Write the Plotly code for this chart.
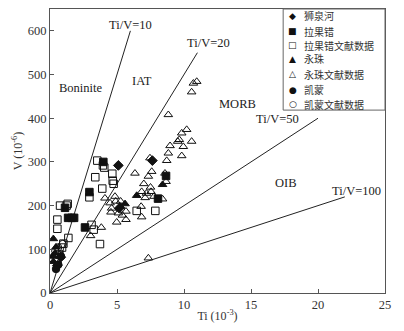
import plotly.graph_objects as go

FONT = "Liberation Serif, Times New Roman, serif"
CJK = "Noto Sans CJK SC"

# 狮泉河
SQH_TI = [5.10, 7.64, 5.17, 0.55, 0.80]
SQH_V = [292, 303, 194, 63, 82]
# 拉果错
LGC_TI = [3.98, 2.94, 2.61, 1.35, 1.62, 1.80, 1.12, 8.06, 8.66]
LGC_V = [300, 231, 150, 172, 172, 172, 195, 216, 268]
# 拉果错文献数据
LGCL_TI = [0.75, 1.24, 1.32, 0.55, 0.55, 1.37, 0.90, 1.00, 0.70, 3.53, 3.38, 4.05,
           3.90, 2.94, 4.65, 4.68, 3.10, 3.26, 3.73, 6.47, 7.86, 3.95, 4.75]
LGCL_V = [200, 200, 204, 168, 147, 126, 104, 113, 88, 303, 265, 287,
          239, 219, 273, 257, 156, 145, 112, 188, 188, 292, 250]
# 永珠
YZ_TI = [0.25, 0.45, 0.20, 0.37, 0.25, 6.47, 8.40, 5.60, 5.27]
YZ_V = [124, 105, 84, 91, 72, 223, 248, 204, 198]
# 永珠文献数据
YZL_TI = [10.95, 10.70, 10.57, 8.83, 10.20, 9.83, 9.65, 9.53, 10.57, 9.95, 8.96,
          8.83, 9.83, 8.71, 7.46, 6.34, 7.59, 7.34, 7.00, 6.84, 7.20, 7.54, 7.76,
          7.10, 8.58, 8.66, 8.40, 4.85, 4.90, 4.10, 4.48, 4.60, 5.27, 5.10, 4.98,
          5.67, 5.67, 3.83, 3.03, 6.80, 6.84, 7.34, 5.40, 7.50, 4.55]
YZL_V = [484, 480, 460, 408, 374, 366, 351, 347, 347, 335, 337,
         320, 314, 303, 309, 274, 278, 267, 250, 232, 228, 232, 221,
         218, 274, 255, 215, 221, 210, 217, 206, 194, 210, 183, 162,
         168, 187, 150, 131, 198, 174, 80, 178, 242, 185]
# 凯蒙
KM_TI = [0.82, 0.62, 0.45]
KM_V = [84, 65, 55]
# 凯蒙文献数据
KML_TI = [0.40, 0.95, 0.60]
KML_V = [96, 112, 104]

# reference lines Ti/V = k
RATIOS = [10, 20, 50, 100]
LINE_END_TI = [6, 11, 20, 22]

fig = go.Figure()

for k, tmax in zip(RATIOS, LINE_END_TI):
    fig.add_trace(go.Scatter(
        x=[0, tmax], y=[0, tmax * 1000 / k], mode="lines",
        line=dict(color="#222222", width=1), showlegend=False, hoverinfo="skip"))

series = [
    ("狮泉河", SQH_TI, SQH_V, "diamond", "◆"),
    ("拉果错", LGC_TI, LGC_V, "square", "■"),
    ("拉果错文献数据", LGCL_TI, LGCL_V, "square-open", "□"),
    ("永珠", YZ_TI, YZ_V, "triangle-up", "▲"),
    ("永珠文献数据", YZL_TI, YZL_V, "triangle-up-open", "△"),
    ("凯蒙", KM_TI, KM_V, "circle", "●"),
    ("凯蒙文献数据", KML_TI, KML_V, "circle-open", "○"),
]
for name, xs, ys, sym, _ in series:
    fig.add_trace(go.Scatter(
        x=xs, y=ys, mode="markers", name=name, showlegend=False,
        marker=dict(symbol=sym, size=7.5, color="#111111",
                    line=dict(color="#111111", width=1))))

labels = [
    (6.0, 613, "Ti/V=10"), (11.8, 572, "Ti/V=20"), (17.0, 398, "Ti/V=50"),
    (22.9, 233, "Ti/V=100"), (2.3, 469, "Boninite"), (6.9, 485, "IAT"),
    (14.0, 432, "MORB"), (17.6, 252, "OIB"),
]
for x, y, t in labels:
    fig.add_annotation(x=x, y=y, text=t, showarrow=False,
                       font=dict(family=FONT, size=12.5, color="#222222"))

# hand-built legend box in the top-right corner (paper coords)
fig.add_shape(type="rect", xref="paper", yref="paper",
              x0=0.696, x1=1.0, y0=0.644, y1=1.0,
              line=dict(color="#666666", width=1), fillcolor="white", layer="above")
row_y = [0.976, 0.922, 0.872, 0.824, 0.771, 0.716, 0.664]
for (name, _, _, _, glyph), yy in zip(series, row_y):
    fig.add_annotation(xref="paper", yref="paper", x=0.725, y=yy, text=glyph,
                       xanchor="center", yanchor="middle", showarrow=False,
                       font=dict(family="DejaVu Sans", size=9, color="#111111"))
    fig.add_annotation(xref="paper", yref="paper", x=0.752, y=yy, text=name,
                       xanchor="left", yanchor="middle", showarrow=False,
                       font=dict(family=CJK, size=10, color="#333333"))

axis = dict(showgrid=False, zeroline=False, showline=True, mirror=True, automargin=False,
            linecolor="#555555", linewidth=1, ticks="inside", ticklen=4,
            tickcolor="#555555", tickfont=dict(family=FONT, size=12.5, color="#333333"))
fig.update_xaxes(range=[0, 25], dtick=5,
                 title=dict(text="Ti (10<sup>-3</sup>)", standoff=0,
                            font=dict(family=FONT, size=12, color="#333333")), **axis)
fig.update_yaxes(range=[0, 650], dtick=100,
                 title=dict(text="V (10<sup>-6</sup>)", standoff=2,
                            font=dict(family=FONT, size=12, color="#333333")), **axis)

fig.update_layout(
    width=404, height=331,
    margin=dict(l=50, r=19, t=9, b=38),
    plot_bgcolor="white", paper_bgcolor="white",
    font=dict(family=FONT, size=11, color="#333333"),
    showlegend=False,
)

# drop the browser's default 8px body margin so the figure fills the window
fig.write_html("out.html", config={"displayModeBar": False},
               post_script="document.body.style.margin='0';")
